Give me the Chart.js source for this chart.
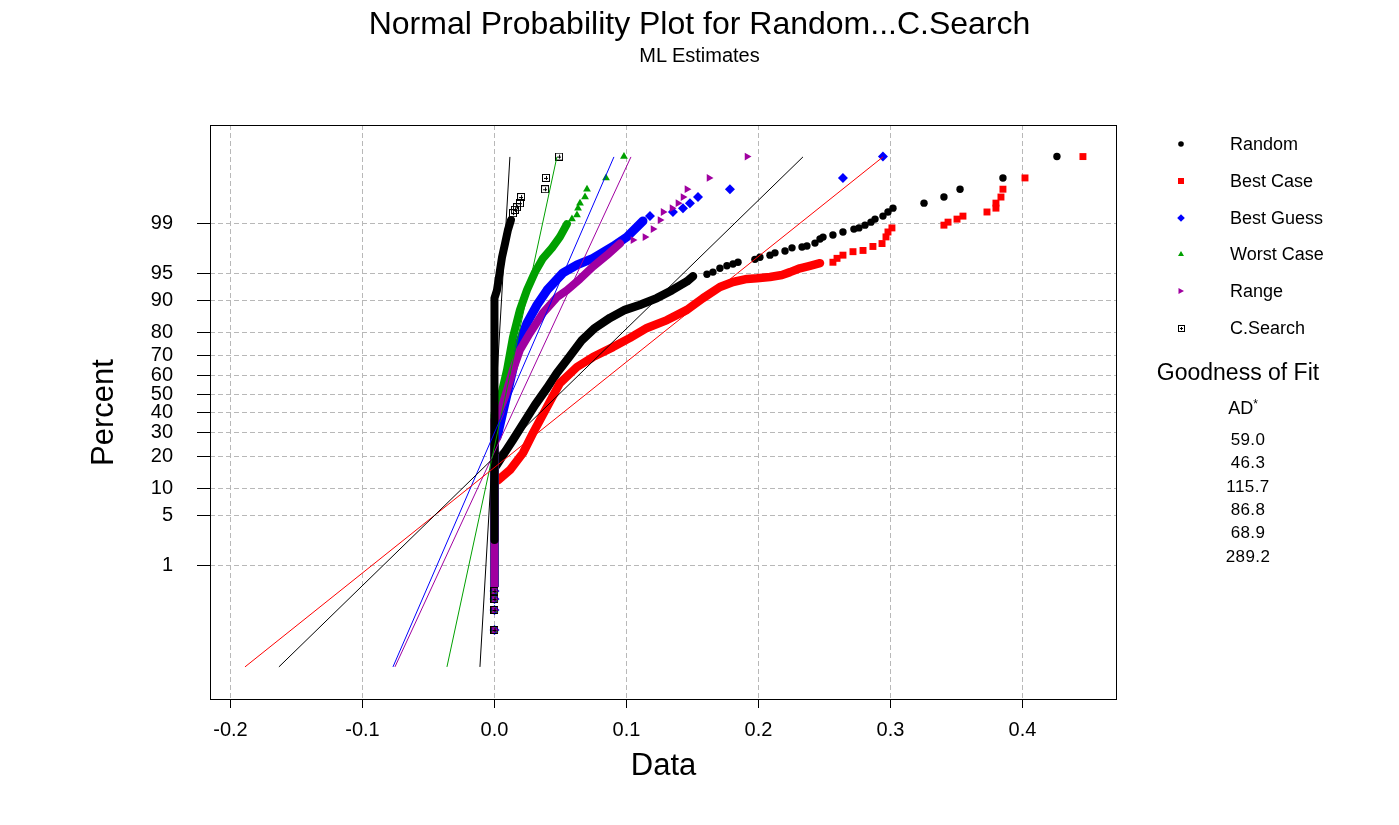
<!DOCTYPE html>
<html>
<head>
<meta charset="utf-8">
<script src="https://cdn.jsdelivr.net/npm/chart.js@4/dist/chart.umd.min.js"></script>
<style>
  body { margin: 0; background: #fff; overflow: hidden; }
  #wrap { position: relative; width: 1399px; height: 825px; background: #fff;
          font-family: "Liberation Sans", Arial, sans-serif; color: #000; }
  #wrap canvas { position: absolute; left: 0; top: 0; }
  .txt { position: absolute; white-space: nowrap; }
  .ctr { text-align: center; }
</style>
</head>
<body>
<div id="wrap">
  <canvas id="plot" width="1399" height="825"></canvas>
  <div class="txt ctr" style="left:0;width:1399px;top:7px;font-size:32px;line-height:32px;">Normal Probability Plot for Random...C.Search</div>
  <div class="txt ctr" style="left:0;width:1399px;top:45px;font-size:20px;line-height:20px;">ML Estimates</div>
  <div id="legend"></div>
  <div class="txt ctr" style="left:1138px;width:200px;top:361px;font-size:23px;line-height:23px;">Goodness of Fit</div>
  <div class="txt ctr" style="left:1143px;width:200px;top:399px;font-size:18px;line-height:18px;">AD<sup style="font-size:12px;vertical-align:6px;line-height:0">*</sup></div>
  <div id="advals"></div>
</div>
<script>
// axis ticks
const xTicks = [-0.2, -0.1, 0.0, 0.1, 0.2, 0.3, 0.4];
const yTickPct = [1, 5, 10, 20, 30, 40, 50, 60, 70, 80, 90, 95, 99];

const seriesNames = ['Random', 'Best Case', 'Best Guess', 'Worst Case', 'Range', 'C.Search'];
const seriesColors = ['#000000', '#ff0000', '#0000ff', '#00a000', '#a000a0', '#000000'];
const adValues = ['59.0', '46.3', '115.7', '86.8', '68.9', '289.2'];

// [data, percent] pairs
// dense runs (drawn as a thick band), sparse ends (drawn as markers)
const randomBand = [[0,0.47],[0,16.4],[0.0011,16.4],[0.008,21.6],[0.014,26.7],[0.0216,34.3],[0.0307,44.2],[0.0398,53.4],[0.0473,61.4],[0.0572,69.9],[0.0663,77.0],[0.0761,81.7],[0.0875,85.1],[0.0989,87.5],[0.110,88.8],[0.1231,90.5],[0.1345,92.2],[0.1458,93.8],[0.1504,94.6]];
const randomTail = [[0.161,94.9],[0.1655,95.2],[0.1708,95.7],[0.1761,96.0],[0.1807,96.2],[0.1845,96.4],[0.1973,96.7],[0.2011,96.9],[0.2087,97.1],[0.2125,97.3],[0.2201,97.45],[0.2254,97.7],[0.2330,97.76],[0.2367,97.83],[0.2428,98.03],[0.2466,98.28],[0.2489,98.39],[0.2564,98.5],[0.2640,98.65],[0.2723,98.78],[0.2761,98.83],[0.2807,98.94],[0.2852,99.05],[0.2883,99.15],[0.2943,99.24],[0.2981,99.35],[0.3019,99.44],[0.3254,99.54],[0.3405,99.64],[0.3527,99.74],[0.3852,99.84],[0.4261,99.94]];

const bestCaseBand = [[0,0.47],[0,12.1],[0.0027,12.1],[0.0117,15.1],[0.0216,21.2],[0.0292,29.9],[0.0398,43.1],[0.0496,56.1],[0.0625,64.5],[0.0746,69.4],[0.0898,74.0],[0.1027,77.9],[0.1155,81.7],[0.1307,84.4],[0.1458,87.5],[0.158,90.5],[0.1708,92.8],[0.1807,93.7],[0.1913,94.2],[0.1989,94.3],[0.2087,94.5],[0.2178,94.8],[0.2239,95.2],[0.2314,95.7],[0.239,96.0],[0.2466,96.3]];
const bestCaseTail = [[0.2564,96.4],[0.2595,96.8],[0.264,97.1],[0.2716,97.4],[0.2792,97.5],[0.2867,97.8],[0.2936,98.0],[0.2966,98.4],[0.2981,98.65],[0.3011,98.83],[0.3405,98.94],[0.3436,99.05],[0.3504,99.15],[0.3549,99.24],[0.3731,99.35],[0.3799,99.44],[0.3799,99.54],[0.3837,99.64],[0.3852,99.74],[0.4019,99.84],[0.4458,99.94]];

const bestGuessBand = [[0,0.47],[0,28.0],[0.0019,28.0],[0.0027,29.9],[0.008,45.3],[0.0133,61.4],[0.0178,74.0],[0.0246,83.4],[0.0322,88.8],[0.0398,92.2],[0.0519,95.1],[0.0625,96.1],[0.0746,96.8],[0.0898,97.8],[0.1004,98.4],[0.1125,99.09]];
const bestGuessTail = [[0.1178,99.24],[0.1352,99.35],[0.1428,99.44],[0.1481,99.54],[0.1542,99.64],[0.1784,99.74],[0.264,99.84],[0.2943,99.94]];

const worstCaseBand = [[0,0.47],[0,38.9],[0.0019,38.9],[0.0042,46.9],[0.0095,63.0],[0.014,78.2],[0.0193,87.5],[0.0246,92.2],[0.0307,95.2],[0.0367,96.8],[0.0436,97.7],[0.0496,98.4],[0.0549,98.98]];
const worstCaseTail = [[0.0587,99.15],[0.0625,99.27],[0.0633,99.44],[0.0648,99.54],[0.0686,99.64],[0.0701,99.74],[0.0845,99.84],[0.0981,99.94]];

const rangeBand = [[0,0.47],[0,36.3],[0.0019,36.3],[0.0042,39.9],[0.0095,52.3],[0.014,63.0],[0.0193,72.7],[0.0269,79.8],[0.0367,86.6],[0.0473,90.7],[0.0549,92.2],[0.0648,94.2],[0.0746,95.9],[0.0852,97.1],[0.0951,98.0]];
const rangeTail = [[0.1049,98.22],[0.114,98.39],[0.1201,98.78],[0.1254,99.12],[0.1277,99.35],[0.1345,99.44],[0.139,99.54],[0.1428,99.64],[0.1458,99.74],[0.1625,99.84],[0.1913,99.94]];

const cSearchBand = [[0,2.36],[0,90.5],[0.0019,92.2],[0.0034,94.5],[0.0057,96.9],[0.008,98.0],[0.0102,98.74],[0.0125,99.12]];
const cSearchTail = [[0.014,99.32],[0.0155,99.40],[0.017,99.46],[0.0193,99.54],[0.0201,99.64],[0.0383,99.74],[0.039,99.84],[0.0489,99.94]];

// lowest points, all series sit at 0 there
const lowZeroPct = [0.066, 0.165, 0.264, 0.368];

// fitted lines: x at the bottom and top percent
const fitPct = [0.0102, 99.939];
const randomFit = [-0.1633, 0.2337];
const bestCaseFit = [-0.189, 0.2943];
const bestGuessFit = [-0.0769, 0.0905];
const worstCaseFit = [-0.036, 0.0473];
const rangeFit = [-0.0754, 0.1034];
const cSearchFit = [-0.011, 0.0117];

// inverse normal cdf (Acklam) - the probability scale
function probit(p) {
  const a = [-3.969683028665376e+01, 2.209460984245205e+02, -2.759285104469687e+02, 1.383577518672690e+02, -3.066479806614716e+01, 2.506628277459239e+00];
  const b = [-5.447609879822406e+01, 1.615858368580409e+02, -1.556989798598866e+02, 6.680131188771972e+01, -1.328068155288572e+01];
  const c = [-7.784894002430293e-03, -3.223964580411365e-01, -2.400758277161838e+00, -2.549732539343734e+00, 4.374664141464968e+00, 2.938163982698783e+00];
  const d = [7.784695709041462e-03, 3.224671290700398e-01, 2.445134137142996e+00, 3.754408661907416e+00];
  const pl = 0.02425;
  let q, r;
  if (p < pl) {
    q = Math.sqrt(-2 * Math.log(p));
    return (((((c[0]*q+c[1])*q+c[2])*q+c[3])*q+c[4])*q+c[5]) / ((((d[0]*q+d[1])*q+d[2])*q+d[3])*q+1);
  }
  if (p <= 1 - pl) {
    q = p - 0.5; r = q * q;
    return (((((a[0]*r+a[1])*r+a[2])*r+a[3])*r+a[4])*r+a[5])*q / (((((b[0]*r+b[1])*r+b[2])*r+b[3])*r+b[4])*r+1);
  }
  q = Math.sqrt(-2 * Math.log(1 - p));
  return -(((((c[0]*q+c[1])*q+c[2])*q+c[3])*q+c[4])*q+c[5]) / ((((d[0]*q+d[1])*q+d[2])*q+d[3])*q+1);
}
const pts = arr => arr.map(([x, p]) => ({ x: x, y: probit(p / 100) }));

function boxPlus(size) {
  const cv = document.createElement('canvas');
  cv.width = cv.height = size;
  const g = cv.getContext('2d');
  g.strokeStyle = '#000'; g.lineWidth = 1;
  g.strokeRect(0.5, 0.5, size - 1, size - 1);
  const m = Math.floor(size / 2) + 0.5;
  g.beginPath();
  g.moveTo(2, m); g.lineTo(size - 2, m);
  g.moveTo(m, 2); g.lineTo(m, size - 2);
  g.stroke();
  return cv;
}

const series = [
  { band: randomBand, tail: randomTail, fit: randomFit, style: 'circle', radius: 3.7, rot: 0, bw: 8.5 },
  { band: bestCaseBand, tail: bestCaseTail, fit: bestCaseFit, style: 'rect', radius: 4.9, rot: 0, bw: 8.5 },
  { band: bestGuessBand, tail: bestGuessTail, fit: bestGuessFit, style: 'rectRot', radius: 5, rot: 0, bw: 9 },
  { band: worstCaseBand, tail: worstCaseTail, fit: worstCaseFit, style: 'triangle', radius: 4.5, rot: 0, bw: 8 },
  { band: rangeBand, tail: rangeTail, fit: rangeFit, style: 'triangle', radius: 4.5, rot: 90, bw: 8 },
  { band: cSearchBand, tail: cSearchTail, fit: cSearchFit, style: boxPlus(8), radius: 4, rot: 0, bw: 8 }
];

const datasets = [];
series.forEach((s, i) => {
  const col = seriesColors[i];
  const order = 10 - i; // later series on top
  datasets.push({
    label: seriesNames[i] + ' fit', data: pts([[s.fit[0], fitPct[0]], [s.fit[1], fitPct[1]]]),
    showLine: true, borderColor: col, borderWidth: 1, pointRadius: 0, order: 0
  });
  datasets.push({
    label: seriesNames[i] + ' band', data: pts(s.band), showLine: true,
    borderColor: col, borderWidth: s.bw, borderCapStyle: 'round', borderJoinStyle: 'round',
    pointRadius: 0, order: order
  });
  datasets.push({
    label: seriesNames[i], data: pts(s.tail.concat(lowZeroPct.map(p => [0, p]))),
    showLine: false, pointStyle: s.style, pointRadius: s.radius, pointRotation: s.rot,
    backgroundColor: col, borderColor: col, borderWidth: 0, order: order
  });
});

const legendY = [144, 181, 218, 254, 291, 328];

function legendMarker(ctx, i, x, y) {
  ctx.fillStyle = seriesColors[i];
  ctx.beginPath();
  if (i === 0) { ctx.arc(x, y, 2.8, 0, Math.PI * 2); ctx.fill(); }
  else if (i === 1) { ctx.fillRect(x - 3, y - 3, 6, 6); }
  else if (i === 2) { ctx.moveTo(x, y - 3.8); ctx.lineTo(x + 3.8, y); ctx.lineTo(x, y + 3.8); ctx.lineTo(x - 3.8, y); ctx.fill(); }
  else if (i === 3) { ctx.moveTo(x, y - 3); ctx.lineTo(x + 3, y + 2); ctx.lineTo(x - 3, y + 2); ctx.fill(); }
  else if (i === 4) { ctx.moveTo(x - 2.5, y - 3); ctx.lineTo(x + 3, y); ctx.lineTo(x - 2.5, y + 3); ctx.fill(); }
  else { const b = boxPlus(7); ctx.drawImage(b, Math.round(x - 3.5), Math.round(y - 3.5)); }
}

const frameAndLegend = {
  id: 'frameAndLegend',
  afterDraw(chart) {
    const { ctx, chartArea: a } = chart;
    ctx.save();
    ctx.strokeStyle = '#000';
    ctx.lineWidth = 1;
    ctx.strokeRect(a.left + 0.5, a.top + 0.5, a.right - a.left - 1, a.bottom - a.top - 1);
    legendY.forEach((y, i) => legendMarker(ctx, i, 1181, y));
    ctx.restore();
  }
};

// legend text + AD values as html
const legendDiv = document.getElementById('legend');
seriesNames.forEach((n, i) => {
  const d = document.createElement('div');
  d.className = 'txt';
  d.style.cssText = 'left:1230px;top:' + (legendY[i] - 9) + 'px;font-size:18px;line-height:18px;';
  d.textContent = n;
  legendDiv.appendChild(d);
});
const adDiv = document.getElementById('advals');
const adY = [440, 463.3, 486.5, 509.5, 532.8, 556.5];
adValues.forEach((v, i) => {
  const d = document.createElement('div');
  d.className = 'txt ctr';
  d.style.cssText = 'left:1198px;width:100px;top:' + (adY[i] - 9) + 'px;font-size:17px;line-height:17px;letter-spacing:0.4px;';
  d.textContent = v;
  adDiv.appendChild(d);
});

Chart.defaults.font.family = '"Liberation Sans", Arial, sans-serif';
Chart.defaults.color = '#000';

new Chart(document.getElementById('plot'), {
  type: 'scatter',
  data: { datasets: datasets },
  options: {
    responsive: false,
    animation: false,
    events: [],
    layout: { padding: { left: 0, top: 125, right: 282, bottom: 0 } },
    plugins: { legend: { display: false }, tooltip: { enabled: false } },
    scales: {
      x: {
        type: 'linear', min: -0.2155, max: 0.4716,
        afterFit: s => { s.height = 125; },
        afterBuildTicks: s => { s.ticks = xTicks.map(v => ({ value: v })); },
        ticks: { autoSkip: false, maxRotation: 0, padding: 10, font: { size: 20 },
                 callback: v => v.toFixed(1) },
        grid: { color: '#b8b8b8', lineWidth: 1, tickLength: 8, tickColor: '#000', tickBorderDash: [] },
        border: { display: false, dash: [5, 3] },
        title: { display: true, text: 'Data', font: { size: 31 }, padding: { top: 0, bottom: 40 } }
      },
      y: {
        type: 'linear', min: -4.165, max: 3.669,
        afterFit: s => { s.width = 210; },
        afterBuildTicks: s => { s.ticks = yTickPct.map(p => ({ value: probit(p / 100) })); },
        ticks: { autoSkip: false, padding: 24, font: { size: 20 },
                 callback: (v, i) => String(yTickPct[i]) },
        grid: { color: '#b8b8b8', lineWidth: 1, tickLength: 13, tickColor: '#000', tickBorderDash: [] },
        border: { display: false, dash: [5, 3] },
        title: { display: true, text: 'Percent', font: { size: 31 }, padding: { top: 86, bottom: 0 } }
      }
    }
  },
  plugins: [frameAndLegend]
});
</script>
</body>
</html>
